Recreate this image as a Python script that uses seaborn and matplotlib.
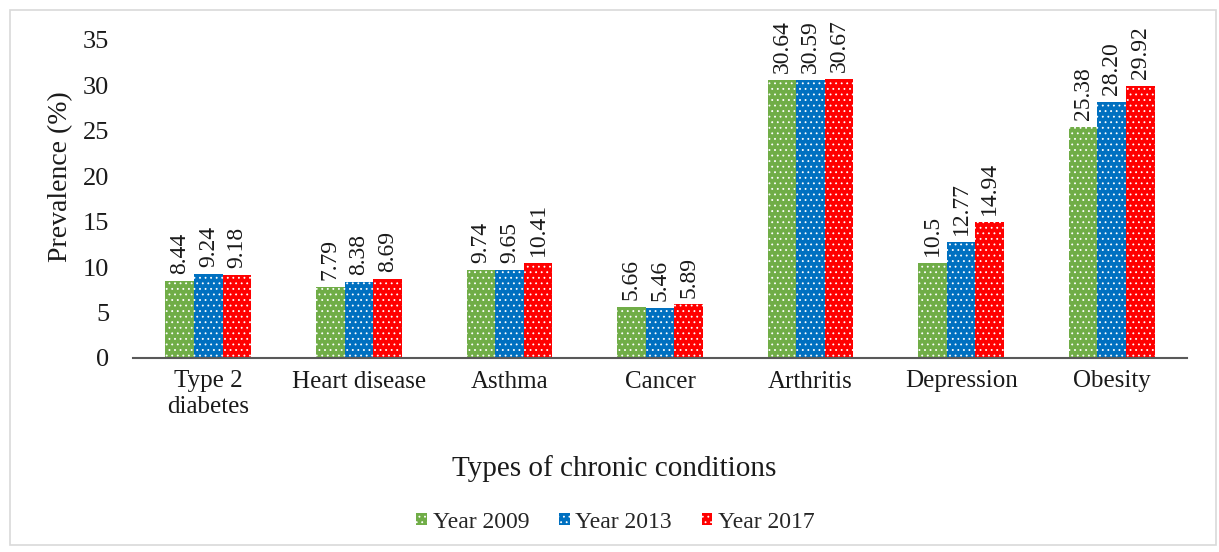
import matplotlib
matplotlib.use("Agg")
import matplotlib.pyplot as plt
from matplotlib.patches import Rectangle, Patch
import pandas as pd
import seaborn as sns

# Prevalence of chronic conditions by survey year (%), as printed on the bars
conditions = ["Type 2\ndiabetes", "Heart disease", "Asthma", "Cancer",
              "Arthritis", "Depression", "Obesity"]
years = ["Year 2009", "Year 2013", "Year 2017"]
labels_2009 = ["8.44", "7.79", "9.74", "5.66", "30.64", "10.5", "25.38"]
labels_2013 = ["9.24", "8.38", "9.65", "5.46", "30.59", "12.77", "28.20"]
labels_2017 = ["9.18", "8.69", "10.41", "5.89", "30.67", "14.94", "29.92"]
colors = ["#70AD47", "#0070C0", "#FF0000"]

series_labels = [labels_2009, labels_2013, labels_2017]
rows = []
for year, labs in zip(years, series_labels):
    for cond, lab in zip(conditions, labs):
        rows.append({"condition": cond, "year": year,
                     "value": float(lab), "label": lab})
df = pd.DataFrame(rows)

sns.set_style("white")
plt.rcParams["font.family"] = ["Liberation Serif", "DejaVu Serif"]
plt.rcParams["hatch.linewidth"] = 0.6

fig = plt.figure(figsize=(12.19, 5.52), dpi=100)
ax = fig.add_axes([133 / 1219, 1 - 358 / 552, 1054 / 1219, 318 / 552])

sns.barplot(data=df, x="condition", y="value", hue="year",
            order=conditions, hue_order=years, palette=colors,
            width=0.57, gap=0, saturation=1, errorbar=None,
            legend=False, ax=ax)

# white dotted fill on every bar, with value labels above
for container, labs in zip(ax.containers, series_labels):
    for bar, lab in zip(container, labs):
        bar.set_edgecolor("white")
        bar.set_linewidth(0)
        bar.set_hatch("...")
    ax.bar_label(container, labels=labs, rotation=90, padding=5,
                 fontsize=17, color="#1a1a1a")

ax.set_ylim(0, 35)
ax.set_yticks(range(0, 36, 5))
ax.set_xlim(-0.5, len(conditions) - 0.5)
ax.tick_params(axis="y", length=0, pad=17, labelsize=19, labelcolor="#1a1a1a")
ax.tick_params(axis="x", length=0, pad=9, labelsize=18, labelcolor="#1a1a1a")
for side in ("left", "right", "top"):
    ax.spines[side].set_visible(False)
ax.spines["bottom"].set_color("#595959")
ax.spines["bottom"].set_linewidth(1.5)

ax.set_ylabel("Prevalence (%)", fontsize=20, color="#1a1a1a")
ax.yaxis.set_label_coords(-0.057, 0.57)
ax.set_xlabel("Types of chronic conditions", fontsize=21, color="#1a1a1a")
ax.xaxis.set_label_coords(0.457, -0.305)

handles = [Patch(facecolor=c, edgecolor="white", linewidth=0, hatch="...")
           for c in colors]
fig.legend(handles, years, loc="center", bbox_to_anchor=(0.505, 1 - 522 / 552),
           ncol=3, frameon=False, fontsize=17, handlelength=0.45,
           handleheight=0.45, handletextpad=0.25, columnspacing=1.25)

# light outer frame around the chart area
fig.patches.append(Rectangle((10 / 1219, 7 / 552), 1206 / 1219, 535 / 552,
                             transform=fig.transFigure, fill=False,
                             edgecolor="#D9D9D9", linewidth=1.2))

fig.savefig("out.png", dpi=100)
